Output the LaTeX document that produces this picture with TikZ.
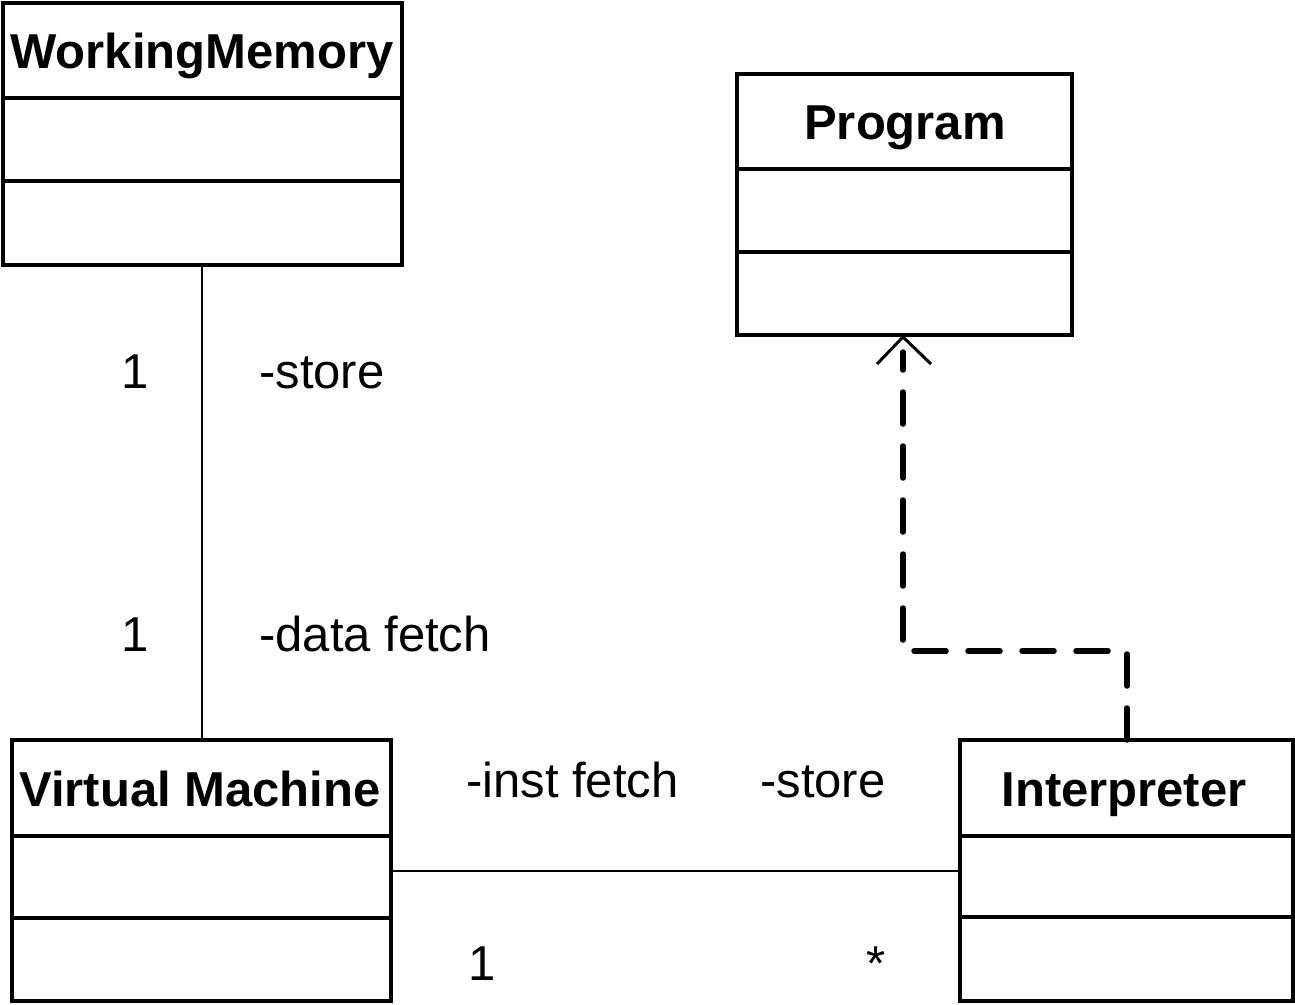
\documentclass[tikz,border=0pt]{standalone}
\usepackage{fontspec}
\setmainfont{Liberation Sans}
\begin{document}
\begin{tikzpicture}[x=1pt,y=-1pt,
  classbox/.style={draw,line width=3.5pt,rectangle,anchor=north west,inner sep=0pt,outer sep=0pt},
  divider/.style={line width=3.5pt},
  title/.style={font=\fontsize{49}{58}\selectfont\bfseries,anchor=base,inner sep=0pt},
  lbl/.style={font=\fontsize{49}{58}\selectfont,anchor=base west,inner sep=0pt},
  assoc/.style={line width=2.2pt},
  dep/.style={line width=5.5pt,line cap=round,dash pattern=on 32pt off 22pt},
  openhead/.style={line width=3pt}]
\useasboundingbox (0,0) rectangle (1295,1004);

% class boxes
\node[classbox,minimum width=399pt,minimum height=262pt] (wm) at (3,3) {};
\node[classbox,minimum width=335pt,minimum height=261pt] (prog) at (737,74) {};
\node[classbox,minimum width=379pt,minimum height=261pt] (vm) at (12,740) {};
\node[classbox,minimum width=333pt,minimum height=261pt] (interp) at (960,740) {};

% compartment lines
\draw[divider] (3,98) -- (402,98) (3,181) -- (402,181);
\draw[divider] (737,169) -- (1072,169) (737,252) -- (1072,252);
\draw[divider] (12,836) -- (391,836) (12,918) -- (391,918);
\draw[divider] (960,836) -- (1293,836) (960,917) -- (1293,917);

% class names
\node[title] (wmname) at (202,68) {WorkingMemory};
\node[title] (progname) at (905,139) {Program};
\node[title] (vmname) at (200,806) {Virtual Machine};
\node[title] (interpname) at (1124,806) {Interpreter};

% associations
\draw[assoc] (wm.south) ++(-0.5,0) coordinate (a1) -- (a1 |- vm.north);
\draw[assoc] (vm.east |- 0,871) coordinate (a2) -- (a2 -| interp.west);

% dependency Interpreter -> Program
\coordinate (d0) at (1127,740);
\coordinate (d1) at (1127,651);
\coordinate (d2) at (903,651);
\coordinate (tip) at (903,337);
\draw[dep] (d0) -- (d1) -- (d2) -- (903,352);
\draw[openhead] (877,364) -- (tip) -- (931,364);

% role names and multiplicities
\node[lbl] (m1) at (121,388) {1};
\node[lbl] (r1) at (259,388) {-store};
\node[lbl] (m2) at (121,651) {1};
\node[lbl] (r2) at (259,651) {-data fetch};
\node[lbl] (r3) at (466,797) {-inst fetch};
\node[lbl] (r4) at (760,797) {-store};
\node[lbl] (m3) at (468,980) {1};
\node[lbl] (m4) at (866,980) {*};
\end{tikzpicture}
\end{document}
